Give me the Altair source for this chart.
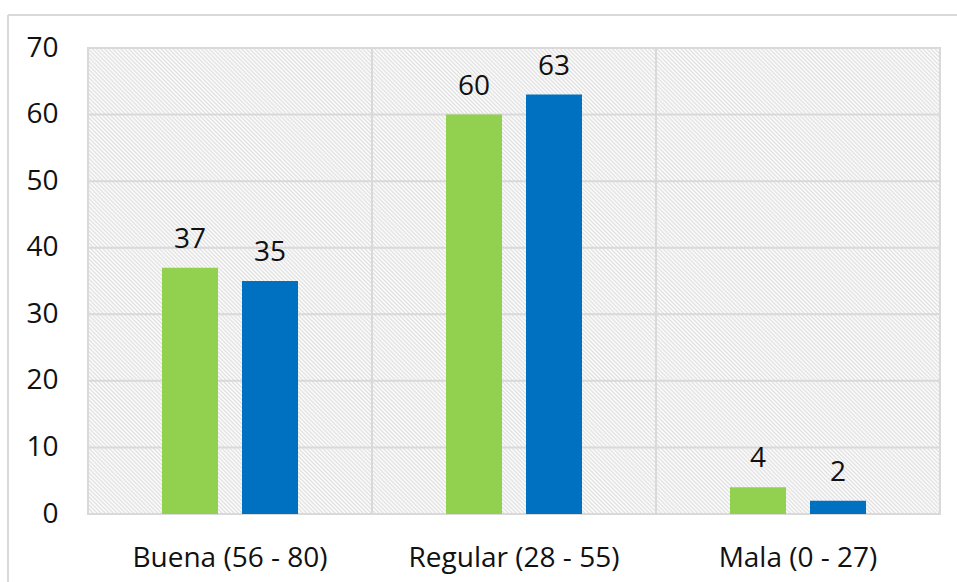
import math
import altair as alt
import pandas as pd

# Categorías del eje X y valores de cada serie (%)
categorias = ["Buena (56 - 80)", "Regular (28 - 55)", "Mala (0 - 27)"]
serie_1 = [37, 60, 4]
serie_2 = [35, 63, 2]
series = ["Serie 1", "Serie 2"]
colores = ["#92D050", "#0070C0"]
ticks_y = [0, 10, 20, 30, 40, 50, 60, 70]

rows = []
for cat, a, b in zip(categorias, serie_1, serie_2):
    rows.append({"categoria": cat, "serie": series[0], "valor": a})
    rows.append({"categoria": cat, "serie": series[1], "valor": b})
df = pd.DataFrame(rows)
df_grid = pd.DataFrame({"valor": ticks_y})
df_cat = pd.DataFrame({"categoria": categorias})

W, H = 852, 466
FONT = "Open Sans"
GRID = "#d9d9d9"
TXT = "#111111"

# Fondo rayado en diagonal (\) mediante un degradado lineal repetido
r = H / W
k = (1 + r) / (1 + r * r)
periodo = 2.85
n = int(round((W + H) / math.sqrt(2) / periodo))
stops = []
for i in range(n):
    stops.append(alt.GradientStop(offset=i / n, color="#ffffff"))
    stops.append(alt.GradientStop(offset=(i + 0.5) / n, color="#e0e0e0"))
stops.append(alt.GradientStop(offset=1.0, color="#ffffff"))
rayado = alt.Gradient(gradient="linear", stops=stops, x1=0, y1=1, x2=k, y2=1 - k * r)

x_enc = alt.X(
    "categoria:N",
    sort=categorias,
    scale=alt.Scale(paddingInner=0, paddingOuter=0),
    axis=alt.Axis(
        title=None,
        labelAngle=0,
        ticks=False,
        tickSize=0,
        domain=False,
        grid=False,
        bandPosition=0.5,
        labelAlign="center",
        labelLimit=500,
        labelFont=FONT,
        labelFontSize=28,
        labelColor=TXT,
        labelBaseline="alphabetic",
        labelPadding=52,
    ),
)
y_enc = alt.Y(
    "valor:Q",
    scale=alt.Scale(domain=[0, 70], nice=False),
    axis=alt.Axis(
        title=None,
        values=ticks_y,
        ticks=False,
        tickSize=0,
        domain=False,
        grid=False,
        labelFont=FONT,
        labelFontSize=28,
        labelColor=TXT,
        labelPadding=30,
    ),
)

base = alt.Chart(df).encode(
    x=x_enc,
    xOffset=alt.XOffset(
        "serie:N",
        sort=series,
        scale=alt.Scale(paddingInner=0.3, paddingOuter=0.925),
    ),
    y=y_enc,
)

# Área de trazado: fondo rayado con borde gris
unit = alt.Chart(pd.DataFrame({"m": [0]}))
fondo = unit.mark_rect(color=rayado, stroke=GRID, strokeWidth=2).encode(
    x=alt.value(0), x2=alt.value(W), y=alt.value(0), y2=alt.value(H)
)

# Líneas de cuadrícula horizontales y separadores de categoría
grid_h = alt.Chart(df_grid).mark_rule(color=GRID, strokeWidth=2).encode(
    y=alt.Y("valor:Q"), x=alt.value(0), x2=alt.value(W)
)
grid_v = alt.Chart(df_cat).mark_rule(color=GRID, strokeWidth=2).encode(
    x=alt.X("categoria:N", sort=categorias, bandPosition=0),
    y=alt.value(0),
    y2=alt.value(H),
)

barras = base.mark_bar().encode(
    color=alt.Color("serie:N", scale=alt.Scale(domain=series, range=colores), legend=None)
)

etiquetas = base.mark_text(
    baseline="alphabetic", dy=-20, font=FONT, fontSize=28, color=TXT
).encode(text=alt.Text("valor:Q", format="d"))

# Marco exterior del gráfico
borde_sup = unit.mark_rule(color=GRID, strokeWidth=2).encode(
    x=alt.value(-80), x2=alt.value(W + 40), y=alt.value(-33)
)
borde_izq = unit.mark_rule(color=GRID, strokeWidth=2).encode(
    x=alt.value(-80), y=alt.value(-33), y2=alt.value(H + 80)
)

chart = (
    alt.layer(fondo, grid_h, grid_v, barras, etiquetas, borde_sup, borde_izq)
    .properties(
        width=W,
        height=H,
        autosize=alt.AutoSizeParams(type="none"),
        padding={"left": 88, "top": 48, "right": 17, "bottom": 68},
        background="white",
    )
    .configure_view(stroke=None)
)

chart.save("out.html", embed_options={"renderer": "svg", "actions": False})
